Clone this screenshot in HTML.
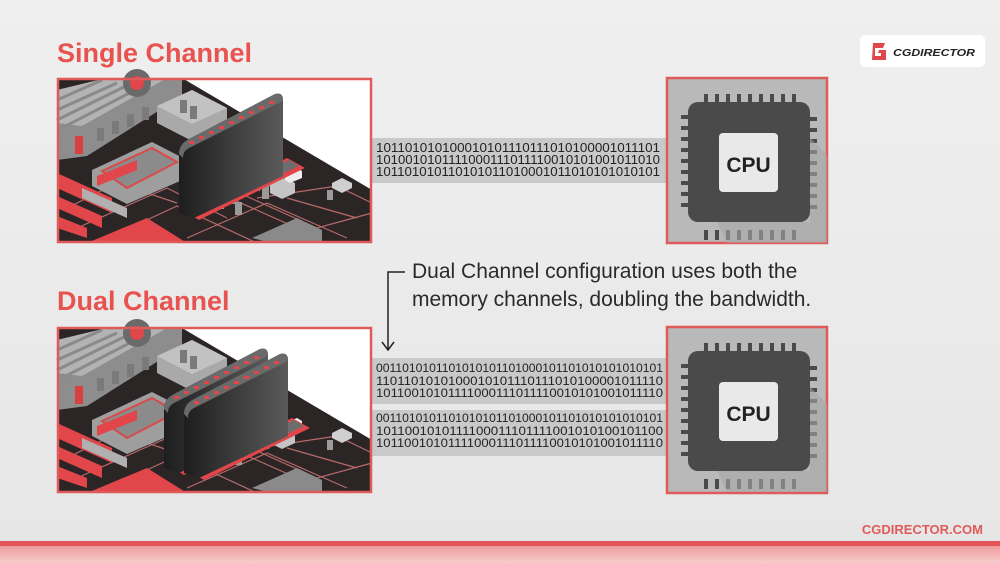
<!DOCTYPE html>
<html><head><meta charset="utf-8"><style>
html,body{margin:0;padding:0;width:1000px;height:563px;overflow:hidden;background:#ececec}
svg{display:block}
</style></head><body>
<svg width="1000" height="563" viewBox="0 0 1000 563" xmlns="http://www.w3.org/2000/svg" font-family="Liberation Sans, sans-serif">
<defs>
<linearGradient id="bg" x1="0" y1="0" x2="0" y2="1"><stop offset="0" stop-color="#efefef"/><stop offset="1" stop-color="#e6e6e6"/></linearGradient>
<linearGradient id="pk" x1="0" y1="0" x2="0" y2="1"><stop offset="0" stop-color="#ee9c9c"/><stop offset="1" stop-color="#f7cccc"/></linearGradient>
<linearGradient id="ram" x1="0" y1="0" x2="1" y2="0"><stop offset="0" stop-color="#1e1e1e"/><stop offset="1" stop-color="#5a5a5a"/></linearGradient>
<g id="board">
<rect x="0" y="0" width="315" height="165" fill="#fff"/>
<polygon points="0,0 125,0 315,112 315,165 0,165" fill="#2b2526"/>
<path d="M20,150 L110,110 L170,140 M40,165 L120,128 L200,165 M150,110 L240,150 M160,105 L260,150 L315,135 M200,120 L280,108 L315,125 M230,120 L300,140 M130,160 L210,125 L290,160 M10,130 L60,105 L120,125" stroke="#b86a6a" stroke-width="1.2" fill="none"/>
<polygon points="0,12 50,0 125,0 125,18 30,78 0,82" fill="#8d8d8d"/>
<polygon points="0,12 50,0 110,0 25,48 0,45" fill="#b3b3b3"/>
<path d="M0,22 L45,2 M0,32 L60,5 M0,42 L75,5 M5,50 L90,6" stroke="#8a8a8a" stroke-width="3"/>
<circle cx="80" cy="5" r="14" fill="#6a6a6a"/><circle cx="80" cy="5" r="7" fill="#e0464a"/>
<polygon points="100,28 135,12 170,30 170,48 135,63 100,45" fill="#a9a9a9"/>
<polygon points="100,28 135,12 170,30 135,46" fill="#c2c2c2"/>
<polygon points="35,92 95,64 130,82 130,100 70,126 35,108" fill="#9e9e9e"/>
<polygon points="45,93 95,70 120,84 70,110" fill="#8b8b8b" stroke="#d94a4a" stroke-width="2"/>
<rect x="18" y="58" width="8" height="18" fill="#d94040"/>
<g fill="#7a7a7a"><rect x="40" y="50" width="7" height="13"/><rect x="55" y="43" width="7" height="13"/><rect x="70" y="36" width="7" height="13"/><rect x="85" y="29" width="7" height="13"/><rect x="123" y="22" width="7" height="13"/><rect x="133" y="28" width="7" height="13"/></g>
<polygon points="0,95 55,120 55,135 0,110" fill="#e0464a"/>
<polygon points="0,118 45,138 45,150 0,130" fill="#e0464a"/>
<polygon points="0,138 30,150 30,160 0,150" fill="#e0464a"/>
<polygon points="30,165 90,140 130,165" fill="#e0464a"/>
<polygon points="40,98 80,82 80,92 40,108" fill="#e0464a"/>
<polygon points="25,110 70,130 70,140 25,120" fill="#b0b0b0"/>
<g fill="#9a9a9a"><rect x="160" y="118" width="7" height="13"/><rect x="172" y="113" width="7" height="13"/><rect x="178" y="124" width="7" height="13"/><rect x="196" y="100" width="7" height="13"/><rect x="205" y="108" width="7" height="13"/><rect x="270" y="112" width="6" height="10"/></g>
<polygon points="200,92 215,86 225,92 225,103 210,109 200,103" fill="#b8b8b8"/>
<polygon points="213,105 225,99 238,105 238,115 225,121 213,115" fill="#c4c4c4"/>
<polygon points="275,105 285,100 295,105 295,110 285,115 275,110" fill="#cfcfcf"/>
<polygon points="228,95 240,90 245,93 245,100 233,105 228,102" fill="#eee"/>
<polygon points="195,160 240,140 265,152 265,165 215,165" fill="#8a8a8a"/>
</g>
<g id="ram1">
<polygon points="125,132 230,80 248,90 142,142" fill="#e0464a"/>
<polygon points="130,130 232,82 242,88 138,136" fill="#6d6d6d"/>
<path d="M122,135 L122,76 Q122,66 132,61 L218,16 Q226,14 226,22 L226,98 L137,140 Z" fill="url(#ram)"/>
<path d="M122,76 Q122,66 132,61 L218,16 Q226,14 226,22 L224,24 L132,70 Q126,73 126,80 Z" fill="#6a6a6a"/>
<g fill="#e0464a"><rect x="132" y="63" width="5" height="3"/><rect x="142" y="58" width="5" height="3"/><rect x="152" y="53" width="5" height="3"/><rect x="162" y="48" width="5" height="3"/><rect x="172" y="43" width="5" height="3"/><rect x="182" y="38" width="5" height="3"/><rect x="192" y="33" width="5" height="3"/><rect x="202" y="28" width="5" height="3"/><rect x="212" y="23" width="5" height="3"/></g>
</g>
<g id="chip">
<g fill="#4a4a4a">
<rect x="21" y="24" width="122" height="120" rx="10"/>
<g id="pt"><rect x="37" y="16" width="4" height="10"/><rect x="48" y="16" width="4" height="10"/><rect x="59" y="16" width="4" height="10"/><rect x="70" y="16" width="4" height="10"/><rect x="81" y="16" width="4" height="10"/><rect x="92" y="16" width="4" height="10"/><rect x="103" y="16" width="4" height="10"/><rect x="114" y="16" width="4" height="10"/><rect x="125" y="16" width="4" height="10"/></g>
<use href="#pt" transform="translate(0,136)"/>
<use href="#pt" transform="rotate(90 82 84)"/>
<use href="#pt" transform="rotate(-90 82 84)"/>
</g>
<polygon points="143,60 160,77 160,165 60,165 50,144 143,144" fill="#a6a6a6" opacity="0.6"/>
<rect x="52" y="55" width="59" height="59" rx="4" fill="#e9e9ea"/>
<text x="81.5" y="94" font-size="21" font-weight="bold" fill="#222" text-anchor="middle">CPU</text>
</g>
</defs>
<rect width="1000" height="563" fill="url(#bg)"/>
<rect x="860" y="35" width="125" height="32" rx="5" fill="#fff"/>
<path d="M873 43 h12 l-2 5 h-8 v8 h6 v-3 h-3 l1-3 h7 v10 h-14 z" fill="#e0464a"/>
<text x="893" y="56" font-size="10" font-weight="bold" font-style="italic" fill="#222" textLength="82" lengthAdjust="spacingAndGlyphs">CGDIRECTOR</text>
<text x="57" y="62" font-size="27" font-weight="bold" fill="#e8524f">Single Channel</text>
<text x="57" y="310" font-size="27" font-weight="bold" fill="#e8524f">Dual Channel</text>
<rect x="372" y="138" width="295" height="45" fill="#c9c9c9"/>
<g font-size="12.5" fill="#222">
<text x="376" y="152" textLength="284" lengthAdjust="spacingAndGlyphs">101101010100010101110111010100001011101</text>
<text x="376" y="164" textLength="284" lengthAdjust="spacingAndGlyphs">1010010101111000111011110010101001011010</text>
<text x="376" y="176" textLength="284" lengthAdjust="spacingAndGlyphs">101101010110101011010001011010101010101</text>
</g>
<g transform="translate(57,78)"><use href="#board"/><use href="#ram1"/></g>
<rect x="58" y="79" width="313" height="163" fill="none" stroke="#e05a5a" stroke-width="2.5"/>
<rect x="667" y="78" width="160" height="165" fill="#b9b9b9" stroke="#e05a5a" stroke-width="2.5"/>
<g transform="translate(667,78)"><use href="#chip"/></g>
<path d="M405 272 H388 V349" stroke="#222" stroke-width="1.5" fill="none"/>
<path d="M382 342 L388 350 L394 342" stroke="#222" stroke-width="1.5" fill="none"/>
<text x="412" y="278" font-size="21" fill="#2a2a2a">Dual Channel configuration uses both the</text>
<text x="412" y="306" font-size="21" fill="#2a2a2a">memory channels, doubling the bandwidth.</text>
<rect x="372" y="358" width="295" height="46" fill="#c9c9c9"/>
<rect x="372" y="410" width="295" height="46" fill="#c9c9c9"/>
<g font-size="11.5" fill="#222">
<text x="376" y="372" textLength="287" lengthAdjust="spacingAndGlyphs">0011010101101010101101000101101010101010101</text>
<text x="376" y="385" textLength="287" lengthAdjust="spacingAndGlyphs">1101101010100010101110111010100001011110</text>
<text x="376" y="397" textLength="287" lengthAdjust="spacingAndGlyphs">10110010101111000111011110010101001011110</text>
<text x="376" y="422" textLength="287" lengthAdjust="spacingAndGlyphs">0011010101101010101101000101101010101010101</text>
<text x="376" y="435" textLength="287" lengthAdjust="spacingAndGlyphs">1011001010111100011101111001010100101100</text>
<text x="376" y="447" textLength="287" lengthAdjust="spacingAndGlyphs">10110010101111000111011110010101001011110</text>
</g>
<g transform="translate(57,328)"><use href="#board"/><use href="#ram1" transform="translate(-15,5)"/><use href="#ram1" transform="translate(5,10)"/></g>
<rect x="58" y="328" width="313" height="164" fill="none" stroke="#e05a5a" stroke-width="2.5"/>
<rect x="667" y="327" width="160" height="166" fill="#b9b9b9" stroke="#e05a5a" stroke-width="2.5"/>
<g transform="translate(667,327)"><use href="#chip"/></g>
<text x="983" y="534" font-size="13" font-weight="bold" fill="#e05a5a" text-anchor="end">CGDIRECTOR.COM</text>
<rect x="0" y="541" width="1000" height="5" fill="#e4555a"/>
<rect x="0" y="546" width="1000" height="17" fill="url(#pk)"/>
</svg>
</body></html>
